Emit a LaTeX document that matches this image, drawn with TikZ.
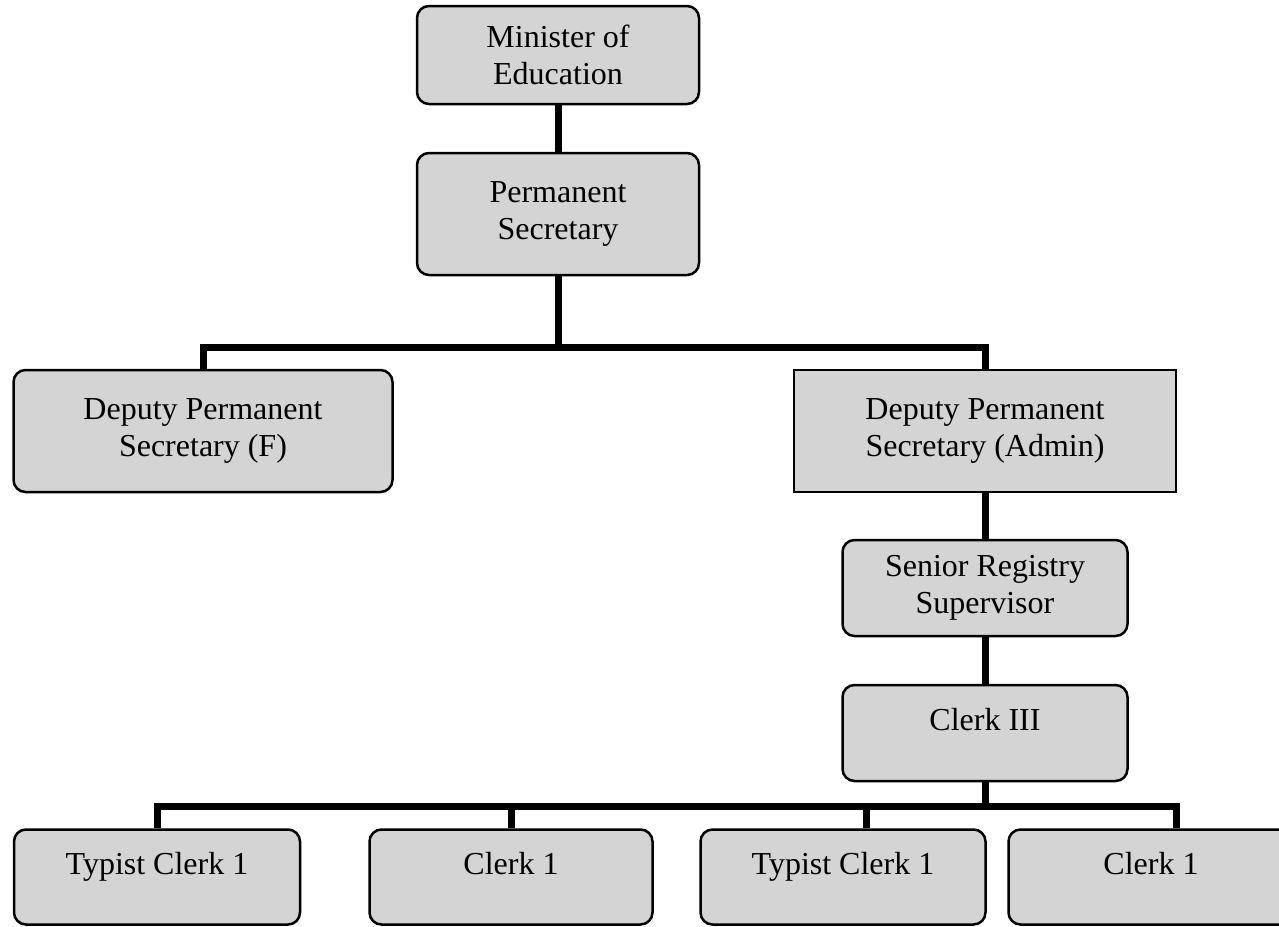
\documentclass[tikz,border=0pt]{standalone}
\usepackage{fontspec}
\setmainfont{Liberation Serif}
\usepackage{xcolor}
\begin{document}
\begin{tikzpicture}[x=1pt,y=-1pt]

\tikzset{post/.style = {shape=rectangle,rounded corners=12pt,draw,line width=2.5pt,fill=black!17,align=center,font=\fontsize{32}{37}\selectfont,inner sep=0pt}}
\tikzset{single/.style = {text height=22pt,text depth=27pt}}
\tikzset{edge/.style = {-,line width=7pt}}
\useasboundingbox (0,0) rectangle (1279,926);
\node[post,minimum width=282pt,minimum height=98pt] (minister) at (558,55) {Minister of\\Education};
\node[post,minimum width=282pt,minimum height=122pt] (perm) at (558,214) {Permanent\\Secretary};
\node[post,minimum width=379pt,minimum height=122pt] (depF) at (203,431) {Deputy Permanent\\Secretary (F)};
\node[post,sharp corners,minimum width=382pt,minimum height=122pt] (depA) at (985,431) {Deputy Permanent\\Secretary (Admin)};
\node[post,minimum width=285pt,minimum height=96pt] (senior) at (985,588) {Senior Registry\\Supervisor};
\node[post,single,minimum width=285pt,minimum height=96pt] (clerkC) at (985,733) {Clerk III};
\node[post,single,minimum width=286pt,minimum height=95pt] (typistA) at (157,877) {Typist Clerk 1};
\node[post,single,minimum width=283pt,minimum height=95pt] (clerkA) at (511,877) {Clerk 1};
\node[post,single,minimum width=285pt,minimum height=95pt] (typistB) at (843,877) {Typist Clerk 1};
\node[post,single,minimum width=285pt,minimum height=95pt] (clerkB) at (1151,877) {Clerk 1};
\coordinate (upper) at (558,347);
\coordinate (lower) at (985,806);
%edges
\draw[edge] (minister) to (perm);
\draw[edge] (perm) to (upper);
\draw[edge] (upper) -| (depF);
\draw[edge] (upper) -| (depA);
\draw[edge] (depA) to (senior);
\draw[edge] (senior) to (clerkC);
\draw[edge] (clerkC) to (lower);
\draw[edge] (lower) -| (typistA);
\draw[edge] (lower) -| (clerkA);
\draw[edge] (lower) -| ([xshift=23pt]typistB.north);
\draw[edge] (lower) -| ([xshift=25pt]clerkB.north);
\end{tikzpicture}
\end{document}
